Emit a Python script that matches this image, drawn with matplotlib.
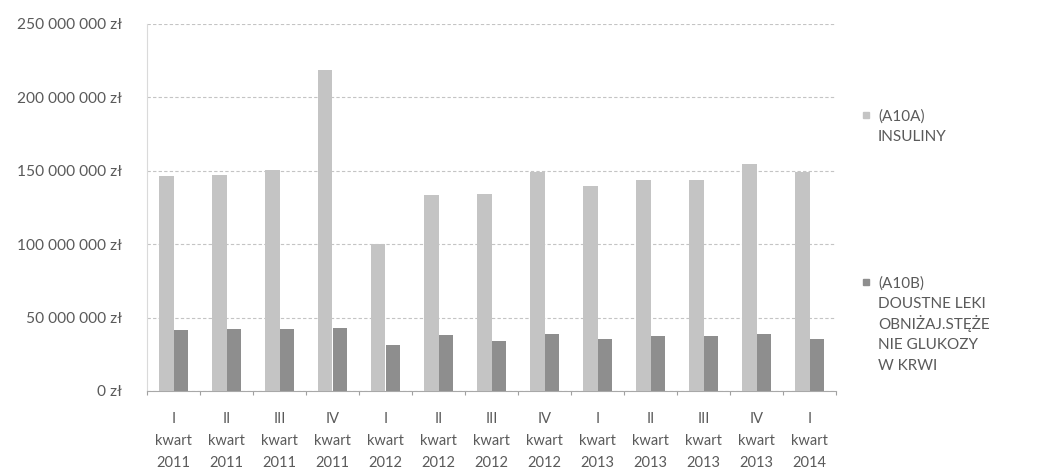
import matplotlib
matplotlib.use("Agg")
import matplotlib.pyplot as plt
import numpy as np
from matplotlib.patches import Rectangle

quarters = ["I", "II", "III", "IV", "I", "II", "III", "IV", "I", "II", "III", "IV", "I"]
years = ["2011", "2011", "2011", "2011", "2012", "2012", "2012", "2012",
         "2013", "2013", "2013", "2013", "2014"]
insuliny = [146.7e6, 147.4e6, 150.3e6, 218.4e6, 100.0e6, 133.3e6, 134.3e6, 149.0e6,
            139.5e6, 143.6e6, 143.6e6, 154.4e6, 149.0e6]
doustne = [41.3e6, 42.2e6, 42.2e6, 43.1e6, 31.6e6, 38.3e6, 34.0e6, 38.6e6,
           35.4e6, 37.5e6, 37.5e6, 38.6e6, 35.4e6]
series_labels = ["(A10A)\nINSULINY",
                 "(A10B)\nDOUSTNE LEKI\nOBNIŻAJ.STĘŻE\nNIE GLUKOZY\nW KRWI"]
yticks = [0, 50e6, 100e6, 150e6, 200e6, 250e6]

plt.rcParams['font.family'] = ['Lato', 'DejaVu Sans']
text_color = "#5a5a5a"
c_light = "#c4c4c4"
c_dark = "#8e8e8e"

fig = plt.figure(figsize=(10.48, 4.74), dpi=100)
ax = fig.add_axes([147/1048, 1 - 391/474, (836-147)/1048, (391-24)/474])

x = np.arange(len(quarters))
w = 0.275
ax.bar(x - w/2, insuliny, w, color=c_light, zorder=3)
ax.bar(x + w/2, doustne, w, color=c_dark, zorder=3)

ax.set_xlim(-0.5, len(quarters) - 0.5)
ax.set_ylim(0, 250e6)
ax.set_yticks(yticks)
ax.set_yticklabels([f"{int(v):,}".replace(",", " ") + " zł" for v in yticks],
                   fontsize=11.2, color=text_color)
ax.yaxis.grid(True, color="#c4c4c4", linestyle=(0, (3, 2)), linewidth=0.8, zorder=0)
ax.tick_params(axis='y', length=0, pad=18)

ax.set_xticks(x)
ax.set_xticklabels([f"{q}\nkwart\n{y}" for q, y in zip(quarters, years)],
                   fontsize=10.5, color=text_color, linespacing=1.75)
ax.tick_params(axis='x', which='major', length=0, pad=15)
ax.set_xticks(np.arange(len(quarters) + 1) - 0.5, minor=True)
ax.tick_params(axis='x', which='minor', length=3, color="#a0a0a0", width=0.8)

for s in ["top", "right"]:
    ax.spines[s].set_visible(False)
ax.spines["left"].set_color("#dadada")
ax.spines["bottom"].set_color("#a8a8a8")

# legend
leg_y = [115, 282]
for lab, col, yy in zip(series_labels, [c_light, c_dark], leg_y):
    fig.patches.append(Rectangle((863/1048, 1 - (yy + 3)/474), 6/1048, 6/474,
                                 transform=fig.transFigure, color=col))
    for i, line in enumerate(lab.split("\n")):
        fig.text(878/1048, 1 - (yy + 5.5 + i * 20.5)/474, line, fontsize=11,
                 color=text_color, va="baseline", ha="left")

fig.savefig("out.png", dpi=100)
